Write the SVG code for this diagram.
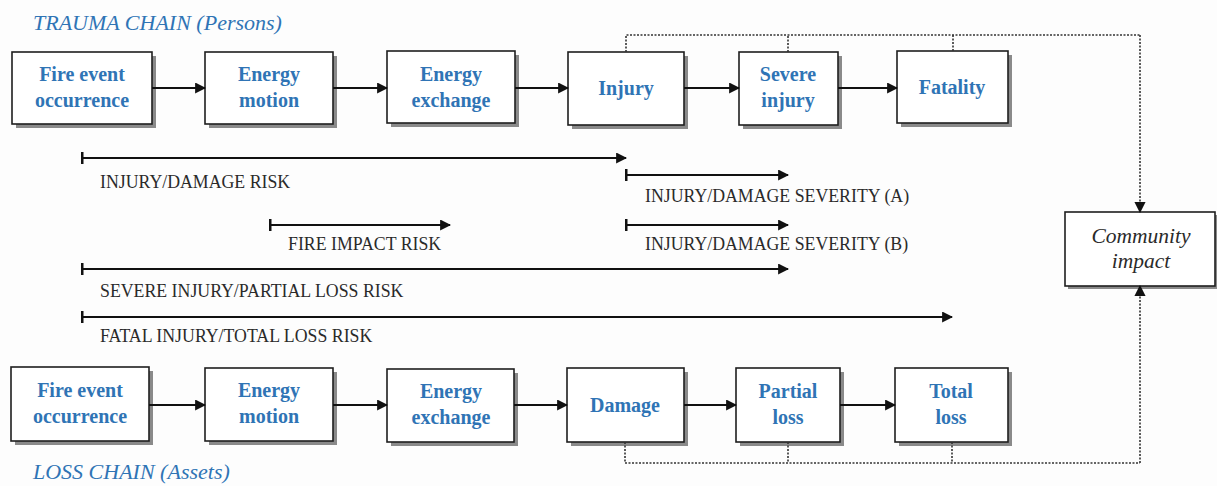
<svg xmlns="http://www.w3.org/2000/svg" width="1217" height="486" viewBox="0 0 1217 486">
  <defs>
    <marker id="arr" viewBox="0 0 10 10" refX="9" refY="5" markerWidth="5.5" markerHeight="5.5" orient="auto" markerUnits="strokeWidth">
      <path d="M0,0 L10,5 L0,10 z" fill="#111"/>
    </marker>
    <marker id="arrS" viewBox="0 0 10 10" refX="9" refY="5" markerWidth="7" markerHeight="7" orient="auto" markerUnits="strokeWidth">
      <path d="M0,0 L10,5 L0,10 z" fill="#111"/>
    </marker>
    <marker id="bar" viewBox="0 0 4 16" refX="2" refY="8" markerWidth="1.5" markerHeight="7" orient="auto" markerUnits="strokeWidth">
      <rect x="0" y="0" width="4" height="16" fill="#111"/>
    </marker>
  </defs>
  <style>
    .bg { fill: #fdfdfd; }
    .shadow { fill: #8a8a8a; }
    .box { fill: #ffffff; stroke: #1e1e1e; stroke-width: 1.6; }
    .lbl { font-family: "Liberation Serif", "Times New Roman", serif; font-weight: bold; font-size: 20px; fill: #2f74b5; text-anchor: middle; }
    .ci { font-family: "Liberation Serif", "Times New Roman", serif; font-style: italic; font-size: 21.5px; fill: #2a2a2a; text-anchor: middle; }
    .title { font-family: "Liberation Serif", "Times New Roman", serif; font-style: italic; font-size: 22px; fill: #2f74b5; }
    .risk { font-family: "Liberation Serif", "Times New Roman", serif; font-size: 17.8px; fill: #2a2a2a; }
    .flow { stroke: #111; stroke-width: 2; fill: none; marker-end: url(#arr); }
    .span { stroke: #111; stroke-width: 2; fill: none; marker-start: url(#bar); marker-end: url(#arr); }
    .dot { stroke: #333; stroke-width: 1.6; fill: none; stroke-dasharray: 2 1.5; }
    .dotA { stroke: #333; stroke-width: 1.6; fill: none; stroke-dasharray: 2 1.5; marker-end: url(#arrS); }
  </style>

  <rect class="bg" x="0" y="0" width="1217" height="486"/>

  <text class="title" x="33" y="30">TRAUMA CHAIN (Persons)</text>
  <text class="title" x="33" y="479">LOSS CHAIN (Assets)</text>

  <!-- Trauma chain -->
  <g id="t1"><rect class="shadow" x="16" y="56" width="140" height="72"/><rect class="box" x="12" y="52" width="140" height="72"/>
    <text class="lbl" x="82" y="81">Fire event</text><text class="lbl" x="82" y="107">occurrence</text></g>
  <g id="t2"><rect class="shadow" x="209" y="56" width="128" height="72"/><rect class="box" x="205" y="52" width="128" height="72"/>
    <text class="lbl" x="269" y="81">Energy</text><text class="lbl" x="269" y="107">motion</text></g>
  <g id="t3"><rect class="shadow" x="391" y="55" width="128" height="72"/><rect class="box" x="387" y="51" width="128" height="72"/>
    <text class="lbl" x="451" y="81">Energy</text><text class="lbl" x="451" y="107">exchange</text></g>
  <g id="t4"><rect class="shadow" x="572" y="56" width="116" height="73"/><rect class="box" x="568" y="52" width="116" height="73"/>
    <text class="lbl" x="626" y="95">Injury</text></g>
  <g id="t5"><rect class="shadow" x="743" y="56" width="99" height="73"/><rect class="box" x="739" y="52" width="99" height="73"/>
    <text class="lbl" x="788" y="81">Severe</text><text class="lbl" x="788" y="107">injury</text></g>
  <g id="t6"><rect class="shadow" x="901" y="55" width="111" height="72"/><rect class="box" x="897" y="51" width="111" height="72"/>
    <text class="lbl" x="952" y="94">Fatality</text></g>

  <!-- Loss chain -->
  <g id="l1"><rect class="shadow" x="15" y="371" width="138" height="74"/><rect class="box" x="11" y="367" width="138" height="74"/>
    <text class="lbl" x="80" y="397">Fire event</text><text class="lbl" x="80" y="423">occurrence</text></g>
  <g id="l2"><rect class="shadow" x="209" y="372" width="128" height="73"/><rect class="box" x="205" y="368" width="128" height="73"/>
    <text class="lbl" x="269" y="397">Energy</text><text class="lbl" x="269" y="423">motion</text></g>
  <g id="l3"><rect class="shadow" x="391" y="373" width="127" height="73"/><rect class="box" x="387" y="369" width="127" height="73"/>
    <text class="lbl" x="451" y="398">Energy</text><text class="lbl" x="451" y="424">exchange</text></g>
  <g id="l4"><rect class="shadow" x="571" y="372" width="117" height="74"/><rect class="box" x="567" y="368" width="117" height="74"/>
    <text class="lbl" x="625" y="412">Damage</text></g>
  <g id="l5"><rect class="shadow" x="740" y="372" width="104" height="74"/><rect class="box" x="736" y="368" width="104" height="74"/>
    <text class="lbl" x="788" y="398">Partial</text><text class="lbl" x="788" y="424">loss</text></g>
  <g id="l6"><rect class="shadow" x="899" y="372" width="113" height="74"/><rect class="box" x="895" y="368" width="113" height="74"/>
    <text class="lbl" x="951" y="398">Total</text><text class="lbl" x="951" y="424">loss</text></g>

  <!-- Community impact -->
  <g id="ci"><rect class="shadow" x="1068" y="215" width="149" height="74"/><rect class="box" x="1065" y="212" width="150" height="74"/>
    <text class="ci" x="1141" y="243">Community</text><text class="ci" x="1141" y="268">impact</text></g>

  <g id="connectors">
    <!-- trauma chain flow -->
    <line class="flow" x1="152" y1="88" x2="205" y2="88"/>
    <line class="flow" x1="333" y1="88" x2="387" y2="88"/>
    <line class="flow" x1="515" y1="88" x2="568" y2="88"/>
    <line class="flow" x1="684" y1="88" x2="739" y2="88"/>
    <line class="flow" x1="838" y1="88" x2="897" y2="88"/>
    <!-- loss chain flow -->
    <line class="flow" x1="149" y1="405" x2="205" y2="405"/>
    <line class="flow" x1="333" y1="405" x2="387" y2="405"/>
    <line class="flow" x1="514" y1="405" x2="567" y2="405"/>
    <line class="flow" x1="684" y1="405" x2="736" y2="405"/>
    <line class="flow" x1="840" y1="405" x2="895" y2="405"/>

    <!-- risk spans -->
    <line class="span" x1="82" y1="158" x2="626" y2="158"/>
    <line class="span" x1="626" y1="175" x2="788" y2="175"/>
    <line class="span" x1="270" y1="225" x2="450" y2="225"/>
    <line class="span" x1="626" y1="225" x2="788" y2="225"/>
    <line class="span" x1="82" y1="269" x2="788" y2="269"/>
    <line class="span" x1="82" y1="317" x2="952" y2="317"/>

    <!-- trauma outcomes to community impact -->
    <path class="dot" d="M626,52 V35 H1140"/>
    <line class="dot" x1="788" y1="52" x2="788" y2="35"/>
    <line class="dot" x1="953" y1="51" x2="953" y2="35"/>
    <line class="dotA" x1="1140" y1="35" x2="1140" y2="212"/>
    <!-- loss outcomes to community impact -->
    <path class="dot" d="M625,442 V463 H1140"/>
    <line class="dot" x1="788" y1="442" x2="788" y2="463"/>
    <line class="dot" x1="952" y1="442" x2="952" y2="463"/>
    <line class="dotA" x1="1140" y1="463" x2="1140" y2="286"/>
  </g>

  <g id="risk-labels">
    <text class="risk" x="100" y="188">INJURY/DAMAGE RISK</text>
    <text class="risk" x="645" y="202">INJURY/DAMAGE SEVERITY (A)</text>
    <text class="risk" x="288" y="250">FIRE IMPACT RISK</text>
    <text class="risk" x="645" y="250">INJURY/DAMAGE SEVERITY (B)</text>
    <text class="risk" x="100" y="297">SEVERE INJURY/PARTIAL LOSS RISK</text>
    <text class="risk" x="100" y="342">FATAL INJURY/TOTAL LOSS RISK</text>
  </g>
</svg>
